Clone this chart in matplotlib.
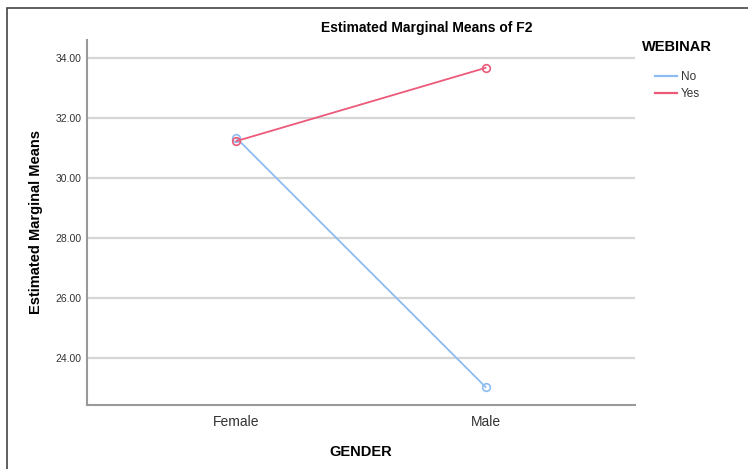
import matplotlib
matplotlib.use("Agg")
import matplotlib.pyplot as plt
from matplotlib.patches import Rectangle
from matplotlib.lines import Line2D

plt.rcParams['font.family'] = ['Liberation Sans', 'DejaVu Sans']

genders = ['Female', 'Male']
webinar_no = [31.33, 23.03]
webinar_yes = [31.23, 33.67]
y_ticks = [24, 26, 28, 30, 32, 34]

blue = '#8cbcf2'
red = '#ec5a7a'

W, H = 748, 469
fig = plt.figure(figsize=(W / 100, H / 100), dpi=100)

# axes box in pixels: left 87, right 635, top 40, bottom 405
ax = fig.add_axes([87 / W, 1 - 405 / H, (635 - 87) / W, (405 - 40) / H])

x = list(range(len(genders)))
ax.plot(x, webinar_no, color=blue, lw=1.3, marker='o', ms=5.5,
        mfc='none', mec=blue, mew=1.2, zorder=3)
ax.plot(x, webinar_yes, color=red, lw=1.3, marker='o', ms=5.5,
        mfc='none', mec=red, mew=1.2, zorder=3)

ax.set_xlim(-0.6, 1.6)
ax.set_ylim(22.43, 34.6)
ax.set_xticks(x)
ax.set_xticklabels(genders, fontsize=10, color='#333333')
ax.set_yticks(y_ticks)
ax.set_yticklabels([f'{v:.2f}' for v in y_ticks], fontsize=7.5, color='#333333')
ax.tick_params(axis='both', length=0)
ax.tick_params(axis='x', pad=7)
ax.tick_params(axis='y', pad=4)
ax.grid(axis='y', color='#d6d6d6', lw=1.6)
ax.set_axisbelow(True)

for s in ['top', 'right']:
    ax.spines[s].set_visible(False)
for s in ['left', 'bottom']:
    ax.spines[s].set_color('#999999')
    ax.spines[s].set_linewidth(1.5)

ax.set_xlabel('GENDER', fontsize=10.5, fontweight='bold', labelpad=12)
ax.set_ylabel('Estimated Marginal Means', fontsize=10.5, fontweight='bold', labelpad=9)

fig.text(427 / W, 1 - 28 / H, 'Estimated Marginal Means of F2', ha='center',
         va='center', fontsize=10, fontweight='bold')

# legend: title as separate text, entries without markers
fig.text(642 / W, 1 - 47 / H, 'WEBINAR', ha='left', va='center',
         fontsize=10.5, fontweight='bold')
handles = [Line2D([], [], color=blue, lw=1.6), Line2D([], [], color=red, lw=1.6)]
leg = fig.legend(handles, ['No', 'Yes'], loc='upper left',
                 bbox_to_anchor=(655 / W, 1 - 71 / H), frameon=False,
                 fontsize=8.5, handlelength=1.9, handletextpad=0.3,
                 labelspacing=0.45, borderpad=0, borderaxespad=0)
for t in leg.get_texts():
    t.set_color('#333333')

# outer frame, only top and left edges visible
fig.patches.append(Rectangle((7 / W, -0.1), 1.2, 1 - 8 / H + 0.1,
                             transform=fig.transFigure, fill=False,
                             ec='#444444', lw=1.2))

fig.savefig('out.png', dpi=100)
